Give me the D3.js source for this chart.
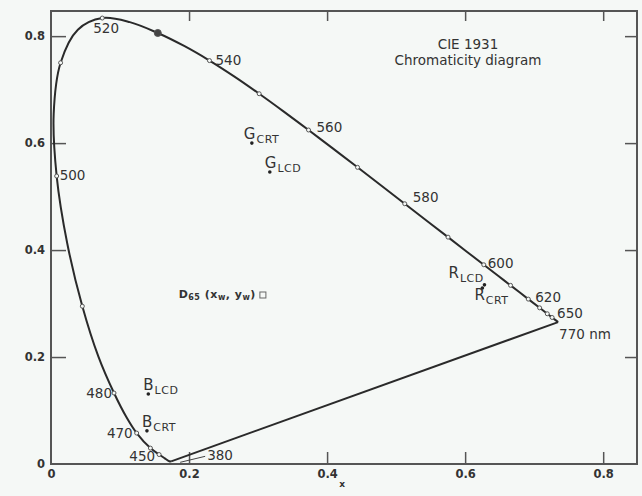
<!DOCTYPE html>
<html>
<head>
<meta charset="utf-8">
<script src="https://cdn.jsdelivr.net/npm/d3@7"></script>
<style>
  body { margin: 0; background: #f5f8f6; }
  svg text { font-family: "DejaVu Sans", "Liberation Sans", sans-serif; fill: #333; }
</style>
</head>
<body>
<div id="chart"></div>
<script>
// spectral locus, CIE 1931 2° observer (nm, x, y)
const wavelengths = [380, 420, 440, 450, 460, 470, 475, 480, 485, 490, 495, 500, 505, 510, 515, 520, 525, 530, 535, 540, 545, 550, 555, 560, 565, 570, 575, 580, 585, 590, 595, 600, 605, 610, 620, 630, 640, 650, 660, 680, 700];
const locusX = [0.1741, 0.1714, 0.1644, 0.1566, 0.1440, 0.1241, 0.1096, 0.0913, 0.0687, 0.0454, 0.0235, 0.0082, 0.0039, 0.0139, 0.0389, 0.0743, 0.1142, 0.1547, 0.1929, 0.2296, 0.2658, 0.3016, 0.3373, 0.3731, 0.4087, 0.4441, 0.4788, 0.5125, 0.5448, 0.5752, 0.6029, 0.6270, 0.6482, 0.6658, 0.6915, 0.7079, 0.7190, 0.7260, 0.7300, 0.7334, 0.7347];
const locusY = [0.0050, 0.0051, 0.0109, 0.0177, 0.0297, 0.0578, 0.0868, 0.1327, 0.2007, 0.2950, 0.4127, 0.5384, 0.6548, 0.7502, 0.8120, 0.8338, 0.8262, 0.8059, 0.7816, 0.7543, 0.7243, 0.6923, 0.6589, 0.6245, 0.5896, 0.5547, 0.5202, 0.4866, 0.4544, 0.4242, 0.3965, 0.3725, 0.3514, 0.3340, 0.3083, 0.2920, 0.2809, 0.2740, 0.2700, 0.2666, 0.2653];

// wavelengths that get a circle marker and the ones that get a label
const markedNm = [450, 460, 470, 480, 490, 500, 510, 520, 530, 540, 550, 560, 570, 580, 590, 600, 610, 620, 630, 640, 650];
const labelNm = [380, 450, 470, 480, 500, 520, 540, 560, 580, 600, 620, 650, 700];
const labelText = ["380", "450", "470", "480", "500", "520", "540", "560", "580", "600", "620", "650", "770 nm"];

// display primaries and white point
const primaryLetter = ["G", "G", "B", "B", "R", "R"];
const primarySub = ["CRT", "LCD", "LCD", "CRT", "LCD", "CRT"];
const primaryX = [0.291, 0.317, 0.141, 0.139, 0.628, 0.625];
const primaryY = [0.600, 0.546, 0.131, 0.062, 0.335, 0.329];
const whiteX = 0.307, whiteY = 0.316;

const xTicks = [0, 0.2, 0.4, 0.6, 0.8];
const yTicks = [0, 0.2, 0.4, 0.6, 0.8];

const W = 642, H = 496;
const margin = { top: 11, right: 5, bottom: 32, left: 51 };

const svg = d3.select("#chart").append("svg")
  .attr("width", W).attr("height", H)
  .style("display", "block");

const x = d3.scaleLinear().domain([0, 0.849]).range([margin.left, W - margin.right]);
const y = d3.scaleLinear().domain([0, 0.847]).range([H - margin.bottom, margin.top]);

const ink = "#2a2a2a";

// frame
svg.append("rect")
  .attr("x", x(0)).attr("y", y(0.847))
  .attr("width", x(0.849) - x(0)).attr("height", y(0) - y(0.847))
  .attr("fill", "none").attr("stroke", "#555").attr("stroke-width", 2);

// axes with inward ticks
const fmt = d => d === 0 ? "0" : d3.format(".1f")(d);
const styleAxis = g => {
  g.select(".domain").remove();
  g.selectAll(".tick line").attr("stroke", "#555").attr("stroke-width", 1.5);
  g.selectAll("text").style("font-size", "11.5px").style("font-weight", "bold").attr("fill", "#444");
};
svg.append("g").attr("transform", `translate(0,${y(0)})`)
  .call(d3.axisBottom(x).tickValues(xTicks).tickSize(-12).tickPadding(6).tickFormat(fmt))
  .call(styleAxis)
  .call(g => g.selectAll(".tick").filter(d => d === 0).select("line").remove());
svg.append("g").attr("transform", `translate(${x(0)},0)`)
  .call(d3.axisLeft(y).tickValues(yTicks).tickSize(-15).tickPadding(6).tickFormat(fmt))
  .call(styleAxis)
  .call(g => g.selectAll(".tick").filter(d => d === 0).select("line").remove());
svg.append("g").attr("transform", `translate(0,${y(0.847)})`)
  .call(d3.axisTop(x).tickValues(xTicks.slice(1)).tickSize(-10).tickFormat(""))
  .call(styleAxis);
svg.append("g").attr("transform", `translate(${x(0.849)},0)`)
  .call(d3.axisRight(y).tickValues(yTicks.slice(1)).tickSize(-12).tickFormat(""))
  .call(styleAxis);

svg.append("text").attr("x", x(0.422)).attr("y", y(0) + 23)
  .attr("text-anchor", "middle").style("font-size", "9px").style("font-weight", "bold").text("x");

// spectral locus
const pts = wavelengths.map((w, i) => ({ w: w, x: locusX[i], y: locusY[i] }));
const line = d3.line().x(d => x(d.x)).y(d => y(d.y)).curve(d3.curveCatmullRom);
svg.append("path").datum(pts)
  .attr("d", line).attr("fill", "none").attr("stroke", ink).attr("stroke-width", 2);

// line of purples
svg.append("line")
  .attr("x1", x(locusX[0])).attr("y1", y(locusY[0]))
  .attr("x2", x(locusX[locusX.length - 1])).attr("y2", y(locusY[locusY.length - 1]))
  .attr("stroke", ink).attr("stroke-width", 2);

const byNm = w => pts.find(p => p.w === w);

svg.selectAll(".mark").data(markedNm.map(byNm)).join("circle")
  .attr("class", "mark")
  .attr("cx", d => x(d.x)).attr("cy", d => y(d.y))
  .attr("r", d => d.w === 530 ? 3.5 : 2)
  .attr("fill", d => d.w === 530 ? "#444" : "#f5f8f6")
  .attr("stroke", "#555").attr("stroke-width", 1);

// wavelength labels, offset from their point
const offs = {
  380: [36, -1, "start"], 450: [-4, 6, "end"], 470: [-4, 5, "end"], 480: [-2, 5, "end"],
  500: [3, 4, "start"], 520: [-9, 15, "start"], 540: [6, 4, "start"], 560: [8, 2, "start"],
  580: [8, -2, "start"], 600: [4, 3, "start"], 620: [7, 3, "start"], 650: [5, 1, "start"],
  700: [1, 17, "start"]
};
svg.selectAll(".wl").data(labelNm.map((w, i) => ({ p: byNm(w), t: labelText[i] }))).join("text")
  .attr("class", "wl")
  .attr("x", d => x(d.p.x) + offs[d.p.w][0])
  .attr("y", d => y(d.p.y) + offs[d.p.w][1])
  .attr("text-anchor", d => offs[d.p.w][2])
  .style("font-size", "13.5px")
  .text(d => d.t);

// leader for 380
const p380 = byNm(380);
svg.append("line")
  .attr("x1", x(p380.x) + 9).attr("y1", y(p380.y) + 1)
  .attr("x2", x(p380.x) + 34).attr("y2", y(p380.y) - 5)
  .attr("stroke", "#444").attr("stroke-width", 1);

// primaries
const prim = primaryX.map((v, i) => ({ x: v, y: primaryY[i], l: primaryLetter[i], s: primarySub[i] }));
const primOff = [[-8, -4], [-5, -4], [-5, -4], [-5, -4], [-36, -7], [-8, 12]];
svg.selectAll(".pdot").data(prim).join("circle")
  .attr("class", "pdot")
  .attr("cx", d => x(d.x)).attr("cy", d => y(d.y)).attr("r", 1.8).attr("fill", "#222");
const pl = svg.selectAll(".plab").data(prim).join("text")
  .attr("class", "plab")
  .attr("x", (d, i) => x(d.x) + primOff[i][0])
  .attr("y", (d, i) => y(d.y) + primOff[i][1]);
pl.append("tspan").style("font-size", "15px").text(d => d.l);
pl.append("tspan").attr("dx", 1).attr("dy", 4).style("font-size", "11px")
  .style("letter-spacing", "0.5px").text(d => d.s);

// white point
svg.append("rect")
  .attr("x", x(whiteX) - 3).attr("y", y(whiteY) - 3).attr("width", 6).attr("height", 6)
  .attr("fill", "none").attr("stroke", "#666").attr("stroke-width", 1);
const wt = svg.append("text").attr("x", x(whiteX) - 7).attr("y", y(whiteY) + 3)
  .attr("text-anchor", "end").style("font-size", "11px").style("font-weight", "bold")
  .style("letter-spacing", "0.5px");
wt.append("tspan").text("D");
wt.append("tspan").attr("dy", 2).style("font-size", "8px").text("65");
wt.append("tspan").attr("dy", -2).text(" (x");
wt.append("tspan").attr("dy", 2).style("font-size", "8px").text("w");
wt.append("tspan").attr("dy", -2).text(", y");
wt.append("tspan").attr("dy", 2).style("font-size", "8px").text("w");
wt.append("tspan").attr("dy", -2).text(")");

// title
svg.append("text").attr("x", 468).attr("y", 49).attr("text-anchor", "middle")
  .style("font-size", "13.5px").text("CIE 1931");
svg.append("text").attr("x", 468).attr("y", 65).attr("text-anchor", "middle")
  .style("font-size", "13.5px").text("Chromaticity diagram");
</script>
</body>
</html>
